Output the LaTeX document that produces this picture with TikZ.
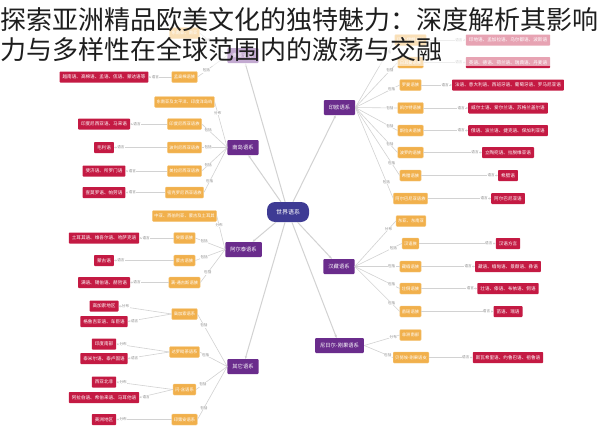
\documentclass[tikz,border=0pt]{standalone}
\usepackage{fontspec}
\newfontfamily\cjk{Noto Sans CJK SC}
\usetikzlibrary{arrows.meta}
\definecolor{worldc}{HTML}{3E3B94}
\definecolor{famc}{HTML}{6A2C8C}
\definecolor{orangec}{HTML}{F1B04C}
\definecolor{orangeb}{HTML}{F6C980}
\definecolor{pinkc}{HTML}{C41A43}
\definecolor{linec}{HTML}{D2D2D2}
\definecolor{labelc}{HTML}{8A8A8A}
\definecolor{titlec}{HTML}{1E1E1E}
\tikzset{
  world/.style={fill=worldc, text=white, rounded corners=8pt, minimum width=42pt, minimum height=20pt, inner sep=0pt, font=\cjk\fontsize{6}{6}\selectfont},
  fam/.style={fill=famc, text=white, rounded corners=1pt, minimum height=15pt, inner xsep=5pt, inner ysep=0pt, font=\cjk\fontsize{5.3}{5.3}\selectfont},
  grp/.style={fill=orangec, draw=orangeb, line width=0.4pt, text=white, rounded corners=1pt, minimum height=11pt, inner xsep=2pt, inner ysep=0pt, font=\cjk\fontsize{4.3}{4.3}\selectfont},
  lang/.style={fill=pinkc, text=white, rounded corners=0.8pt, minimum height=11pt, inner xsep=3pt, inner ysep=0pt, font=\cjk\fontsize{4.6}{4.6}\selectfont},
  elabel/.style={font=\cjk\fontsize{3.6}{3.6}\selectfont, text=labelc, fill=white, inner sep=0.4pt},
  link/.style={draw=linec, line width=0.6pt},
  tolang/.style={draw=linec, line width=0.6pt, -{Stealth[length=2pt,width=2pt]}},
  mainlink/.style={draw=linec, line width=1pt, -{Stealth[length=3pt,width=2.6pt]}},
  titletext/.style={anchor=base west, inner sep=0pt, text=titlec, font=\cjk\fontsize{26}{26}\selectfont},
}
\begin{document}
\begin{tikzpicture}[x=1pt, y=-1pt]
\useasboundingbox (0,0) rectangle (600,447);
\fill[white] (0,0) rectangle (600,447);

% level 1
\node[world] (W) at (288,212) {世界语系};
\node[fam] (NY) at (243,55.5) {南亚语系};
\node[fam] (ND) at (243,147.5) {南岛语系};
\node[fam] (AE) at (243.5,249.5) {阿尔泰语系};
\node[fam] (QT) at (243,366.5) {其它语系};
\node[fam] (IE) at (339.5,107.5) {印欧语系};
\node[fam] (HZ) at (339,266.5) {汉藏语系};
\node[fam] (NC) at (339.5,345.5) {尼日尔-刚果语系};

\foreach \f in {NY,ND,AE,QT,IE,HZ,NC} \draw[mainlink] (W) -- (\f);

% Indo-European
\foreach \n/\y/\g/\l in {
  IEa/40/印度-伊朗语族/印地语、孟加拉语、乌尔都语、波斯语,
  IEb/62.5/日耳曼语族/英语、德语、荷兰语、瑞典语、丹麦语,
  IEc/85/罗曼语族/法语、意大利语、西班牙语、葡萄牙语、罗马尼亚语,
  IEd/108/凯尔特语族/威尔士语、爱尔兰语、苏格兰盖尔语,
  IEe/130.5/斯拉夫语族/俄语、波兰语、捷克语、保加利亚语,
  IEf/152.5/波罗的语族/立陶宛语、拉脱维亚语,
  IEg/175.5/希腊语族/希腊语,
  IEh/198.5/阿尔巴尼亚语族/阿尔巴尼亚语} {
  \node[grp] (\n) at (410.5,\y) {\g};
  \node[lang] (\n L) at (508,\y) {\l};
  \draw[link] (IE.east) -- node[elabel,pos=0.82]{包括} (\n.west);
  \draw[tolang] (\n.east) -- node[elabel,pos=1,anchor=east,xshift=-2.5pt]{语言} (\n L.west);
}

% Sino-Tibetan
\node[grp] (HZa) at (411,221) {东亚、东南亚};
\draw[link] (HZ.east) -- node[elabel,pos=0.82]{分布} (HZa.west);
\foreach \n/\y/\g/\l in {
  HZb/243.5/汉语族/汉语方言,
  HZc/266.5/藏缅语族/藏语、缅甸语、景颇语、彝语,
  HZd/288.5/壮侗语族/壮语、傣语、布依语、侗语,
  HZe/311.5/苗瑶语族/苗语、瑶语} {
  \node[grp] (\n) at (410.5,\y) {\g};
  \node[lang] (\n L) at (508,\y) {\l};
  \draw[link] (HZ.east) -- node[elabel,pos=0.82]{包括} (\n.west);
  \draw[tolang] (\n.east) -- node[elabel,pos=1,anchor=east,xshift=-2.5pt]{语言} (\n L.west);
}

% Niger-Congo
\node[grp] (NCa) at (410.5,335) {非洲南部};
\draw[link] (NC.east) -- node[elabel,pos=0.82]{分布} (NCa.west);
\node[grp] (NCb) at (411,357.5) {贝努埃-刚果语支};
\node[lang] (NCbL) at (508,357.5) {斯瓦希里语、约鲁巴语、祖鲁语};
\draw[link] (NC.east) -- node[elabel,pos=0.82]{包括} (NCb.west);
\draw[tolang] (NCb.east) -- node[elabel,pos=1,anchor=east,xshift=-2.5pt]{语言} (NCbL.west);

% Austroasiatic (top)
\node[grp] (NYa) at (184.5,33) {东南亚、南亚};
\draw[link] (NY.west) -- node[elabel,pos=0.7]{分布} (NYa.east);
\node[grp] (NYb) at (184.5,77) {孟高棉语族};
\node[lang] (NYbL) at (104,77) {越南语、高棉语、孟语、佤语、蒙达语等};
\draw[link] (NY.west) -- node[elabel,pos=0.7]{包括} (NYb.east);
\draw[tolang] (NYb.west) -- node[elabel,pos=1,anchor=west,xshift=2.5pt]{语言} (NYbL.east);

% Austronesian
\node[grp] (NDa) at (184.5,102) {东南亚及太平洋、印度洋岛屿};
\draw[link] (ND.west) -- node[elabel,pos=0.75]{分布} (NDa.east);
\foreach \n/\y/\g/\l in {
  NDb/124/印度尼西亚语族/印度尼西亚语、马来语,
  NDc/147.5/波利尼西亚语族/毛利语,
  NDd/171/美拉尼西亚语族/斐济语、所罗门语,
  NDe/192.5/密克罗尼西亚语族/查莫罗语、帕劳语} {
  \node[grp] (\n) at (184.5,\y) {\g};
  \node[lang] (\n L) at (104,\y) {\l};
  \draw[link] (ND.west) -- node[elabel,pos=0.75]{包括} (\n.east);
  \draw[tolang] (\n.west) -- node[elabel,pos=1,anchor=west,xshift=2.5pt]{语言} (\n L.east);
}

% Altaic
\node[grp] (AEa) at (184.5,216) {中亚、西伯利亚、蒙古及土耳其};
\draw[link] (AE.west) -- node[elabel,pos=0.72]{分布} (AEa.east);
\foreach \n/\y/\g/\l in {
  AEb/238/突厥语族/土耳其语、维吾尔语、哈萨克语,
  AEc/260.5/蒙古语族/蒙古语,
  AEd/282.5/满-通古斯语族/满语、锡伯语、赫哲语} {
  \node[grp] (\n) at (184.5,\y) {\g};
  \node[lang] (\n L) at (104,\y) {\l};
  \draw[link] (AE.west) -- node[elabel,pos=0.7]{包括} (\n.east);
  \draw[tolang] (\n.west) -- node[elabel,pos=1,anchor=west,xshift=2.5pt]{语言} (\n L.east);
}

% Others
\foreach \n/\y/\ya/\yb/\g/\la/\lb in {
  QTa/314/306/321.5/高加索语系/高加索地区/格鲁吉亚语、车臣语,
  QTb/352/344/358.5/达罗毗荼语系/印度南部/泰米尔语、泰卢固语,
  QTc/389.5/382/397.5/闪-含语系/西亚北非/阿拉伯语、希伯来语、马耳他语} {
  \node[grp] (\n) at (184.5,\y) {\g};
  \node[lang] (\n A) at (104,\ya) {\la};
  \node[lang] (\n B) at (104,\yb) {\lb};
  \draw[link] (QT.west) -- node[elabel,pos=0.78]{包括} (\n.east);
  \draw[tolang] (\n.west) -- node[elabel,pos=1,anchor=west,xshift=2.5pt]{分布} (\n A.east);
  \draw[tolang] (\n.west) -- node[elabel,pos=1,anchor=west,xshift=2.5pt]{语言} (\n B.east);
}
\node[grp] (QTd) at (184.5,419.5) {印第安语系};
\node[lang] (QTdA) at (104,419.5) {美洲地区};
\draw[link] (QT.west) -- node[elabel,pos=0.78]{包括} (QTd.east);
\draw[tolang] (QTd.west) -- node[elabel,pos=1,anchor=west,xshift=2.5pt]{分布} (QTdA.east);

% title overlay
\fill[white, opacity=0.6] (0,0) rectangle (600,66);
\node[titletext] (T1) at (0,29) {探索亚洲精品欧美文化的独特魅力：深度解析其影响};
\node[titletext] (T2) at (0,59) {力与多样性在全球范围内的激荡与交融};
\end{tikzpicture}
\end{document}
